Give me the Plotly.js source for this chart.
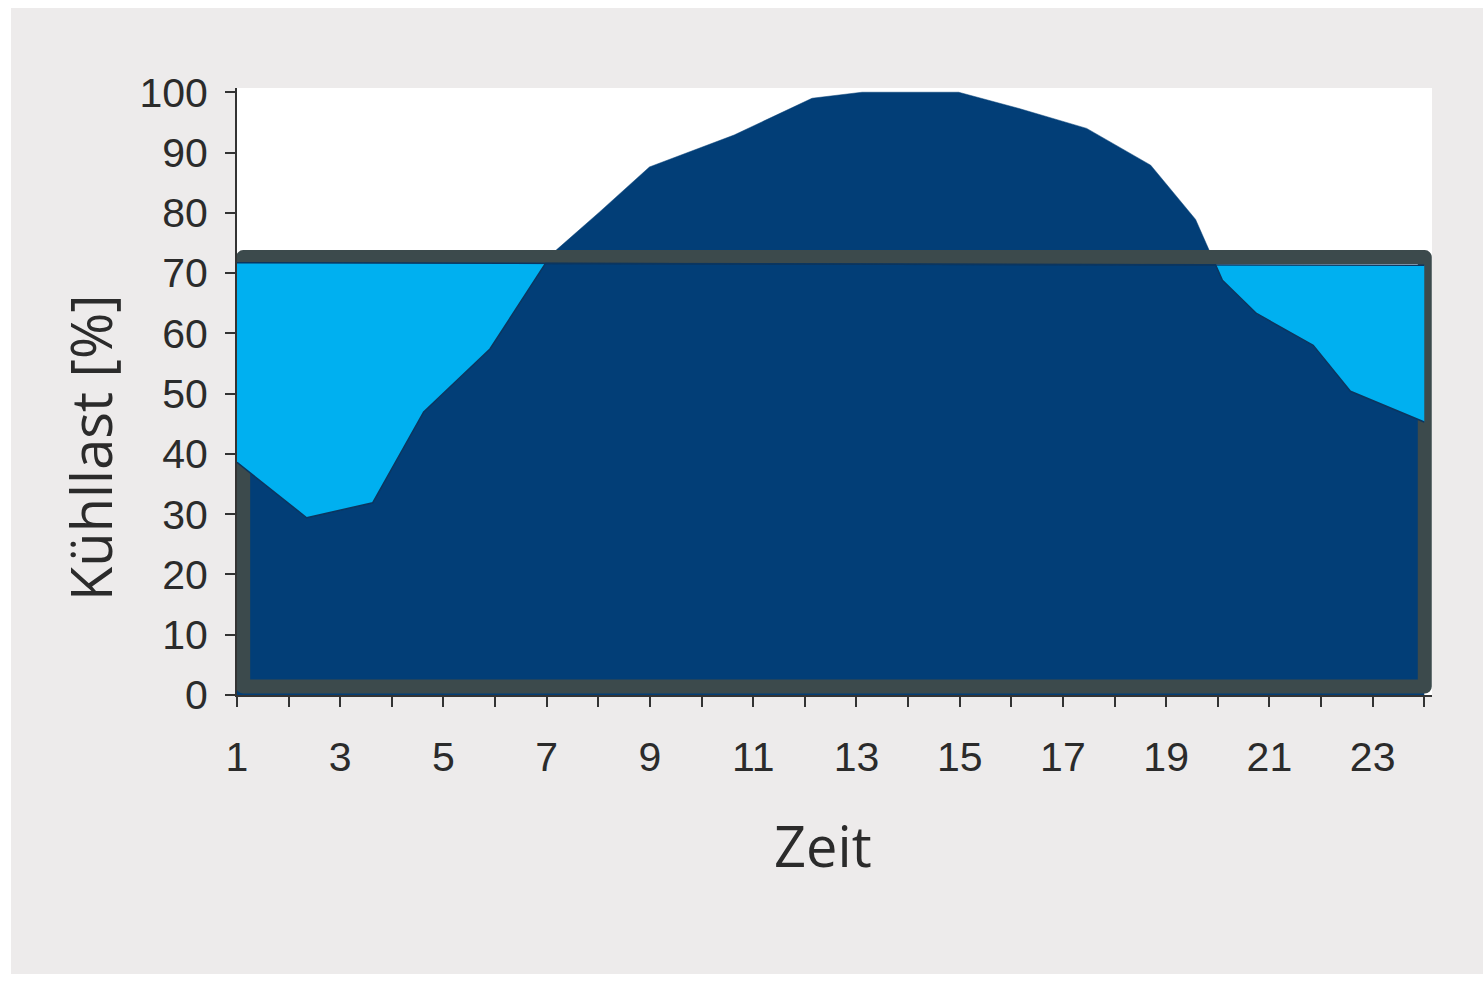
<!DOCTYPE html>
<html>
<head>
<meta charset="utf-8">
<script src="https://cdn.plot.ly/plotly-3.0.1.min.js"></script>
<style>
  html, body { margin: 0; padding: 0; background: #ffffff; width: 1483px; height: 983px; overflow: hidden; }
  #chart { position: absolute; left: 11px; top: 8px; width: 1472px; height: 966px; }
  .scatterlayer path.js-line { stroke-linejoin: round; }
</style>
</head>
<body>
<div id="chart"></div>
<script>
// ---- data ----
const hours = [1, 2.35, 3.63, 4.62, 5.9, 7.09, 8.02, 8.99, 10.63, 12.14, 13.11, 14.98, 16.15, 17.46, 18.70, 19.57, 20.09, 20.75, 21.85, 22.57, 24];
const load  = [38.6, 29.4, 31.9, 47.0, 57.4, 73.1, 80.1, 87.6, 92.9, 99.0, 100, 100, 97.3, 94.0, 87.9, 78.9, 68.8, 63.3, 58.0, 50.4, 45.3];
const capacityHours = [1, 24];
const capacity = [71.7, 71.3];
const xTickVals = [1,2,3,4,5,6,7,8,9,10,11,12,13,14,15,16,17,18,19,20,21,22,23,24];
const xTickText = ['1','','3','','5','','7','','9','','11','','13','','15','','17','','19','','21','','23',''];
const yTickVals = [0,10,20,30,40,50,60,70,80,90,100];
const xTitle = 'Zeit';
const yTitle = 'Kühllast [%]';

// ---- styling ----
const DARK = '#023e77';
const LIGHT = '#00b0f0';
const FRAME = '#3c4a4c';
const OUTLINE = '#0b355f';
const TXT = '#2b2b2b';
const FRAME_PAD = {left: 0.12, right: 0.01, top: 0.95, bottom: 1.4};
const tickFont = {family: '"Liberation Sans Narrow", "Liberation Sans", Arial, sans-serif', size: 41, color: TXT};
const titleFont = {family: '"Open Sans", "Noto Sans", sans-serif', size: 56, color: TXT};

// ---- derived geometry ----
function capAt(x) {
  const t = (x - capacityHours[0]) / (capacityHours[1] - capacityHours[0]);
  return capacity[0] + t * (capacity[1] - capacity[0]);
}
const mx = [], lowY = [], capY = [];
for (let i = 0; i < hours.length; i++) {
  const x = hours[i], y = load[i], c = capAt(x);
  mx.push(x); lowY.push(Math.min(y, c)); capY.push(c);
  if (i < hours.length - 1) {
    const x2 = hours[i+1], y2 = load[i+1];
    const d1 = y - c, d2 = y2 - capAt(x2);
    if (d1 * d2 < 0) {
      const t = d1 / (d1 - d2);
      const xi = x + t * (x2 - x);
      mx.push(xi); lowY.push(capAt(xi)); capY.push(capAt(xi));
    }
  }
}
const fx0 = capacityHours[0] + FRAME_PAD.left, fx1 = capacityHours[1] + FRAME_PAD.right;
const fy0 = 0 + FRAME_PAD.bottom, fy1 = Math.max(...capacity) + FRAME_PAD.top;
const fxm = (fx0 + fx1) / 2;

const traces = [
  { x: hours, y: load, type: 'scatter', mode: 'lines', fill: 'tozeroy',
    fillcolor: DARK, line: {color: DARK, width: 0.5}, hoverinfo: 'skip', showlegend: false },
  { x: [fxm, fx0, fx0, fx1, fx1, fxm], y: [fy1, fy1, fy0, fy0, fy1, fy1], type: 'scatter', mode: 'lines',
    line: {color: FRAME, width: 14}, hoverinfo: 'skip', showlegend: false, cliponaxis: false },
  { x: mx, y: capY, type: 'scatter', mode: 'lines',
    line: {color: OUTLINE, width: 1.5}, hoverinfo: 'skip', showlegend: false },
  { x: mx, y: lowY, type: 'scatter', mode: 'lines', fill: 'tonexty',
    fillcolor: LIGHT, line: {color: OUTLINE, width: 1.5}, hoverinfo: 'skip', showlegend: false }
];

const layout = {
  width: 1472, height: 966,
  margin: {l: 226, r: 51, t: 80, b: 279},
  paper_bgcolor: '#edebeb',
  plot_bgcolor: '#ffffff',
  showlegend: false,
  xaxis: {
    range: [1, 24.15], tickvals: xTickVals, ticktext: xTickText,
    ticks: 'outside', ticklen: 10, tickwidth: 2, tickcolor: '#333',
    showline: true, linecolor: '#333', linewidth: 2,
    showgrid: false, zeroline: false, tickfont: tickFont, ticklabelstandoff: 15
  },
  yaxis: {
    range: [0, 100.7], tickvals: yTickVals,
    ticks: 'outside', ticklen: 10, tickwidth: 2, tickcolor: '#333',
    showline: true, linecolor: '#333', linewidth: 2,
    showgrid: false, zeroline: false, tickfont: tickFont, ticklabelstandoff: 9
  },
  annotations: [
    { text: xTitle, xref: 'paper', yref: 'paper', x: (823 - 237) / 1195, y: -(845 - 695) / 607,
      xanchor: 'center', yanchor: 'middle', showarrow: false, font: titleFont },
    { text: yTitle, xref: 'paper', yref: 'paper', x: -(237 - 90) / 1195, y: (695 - 448) / 607,
      xanchor: 'center', yanchor: 'middle', textangle: -90, showarrow: false, font: titleFont }
  ]
};

Plotly.newPlot('chart', traces, layout, {displayModeBar: false, staticPlot: true});
</script>
</body>
</html>
